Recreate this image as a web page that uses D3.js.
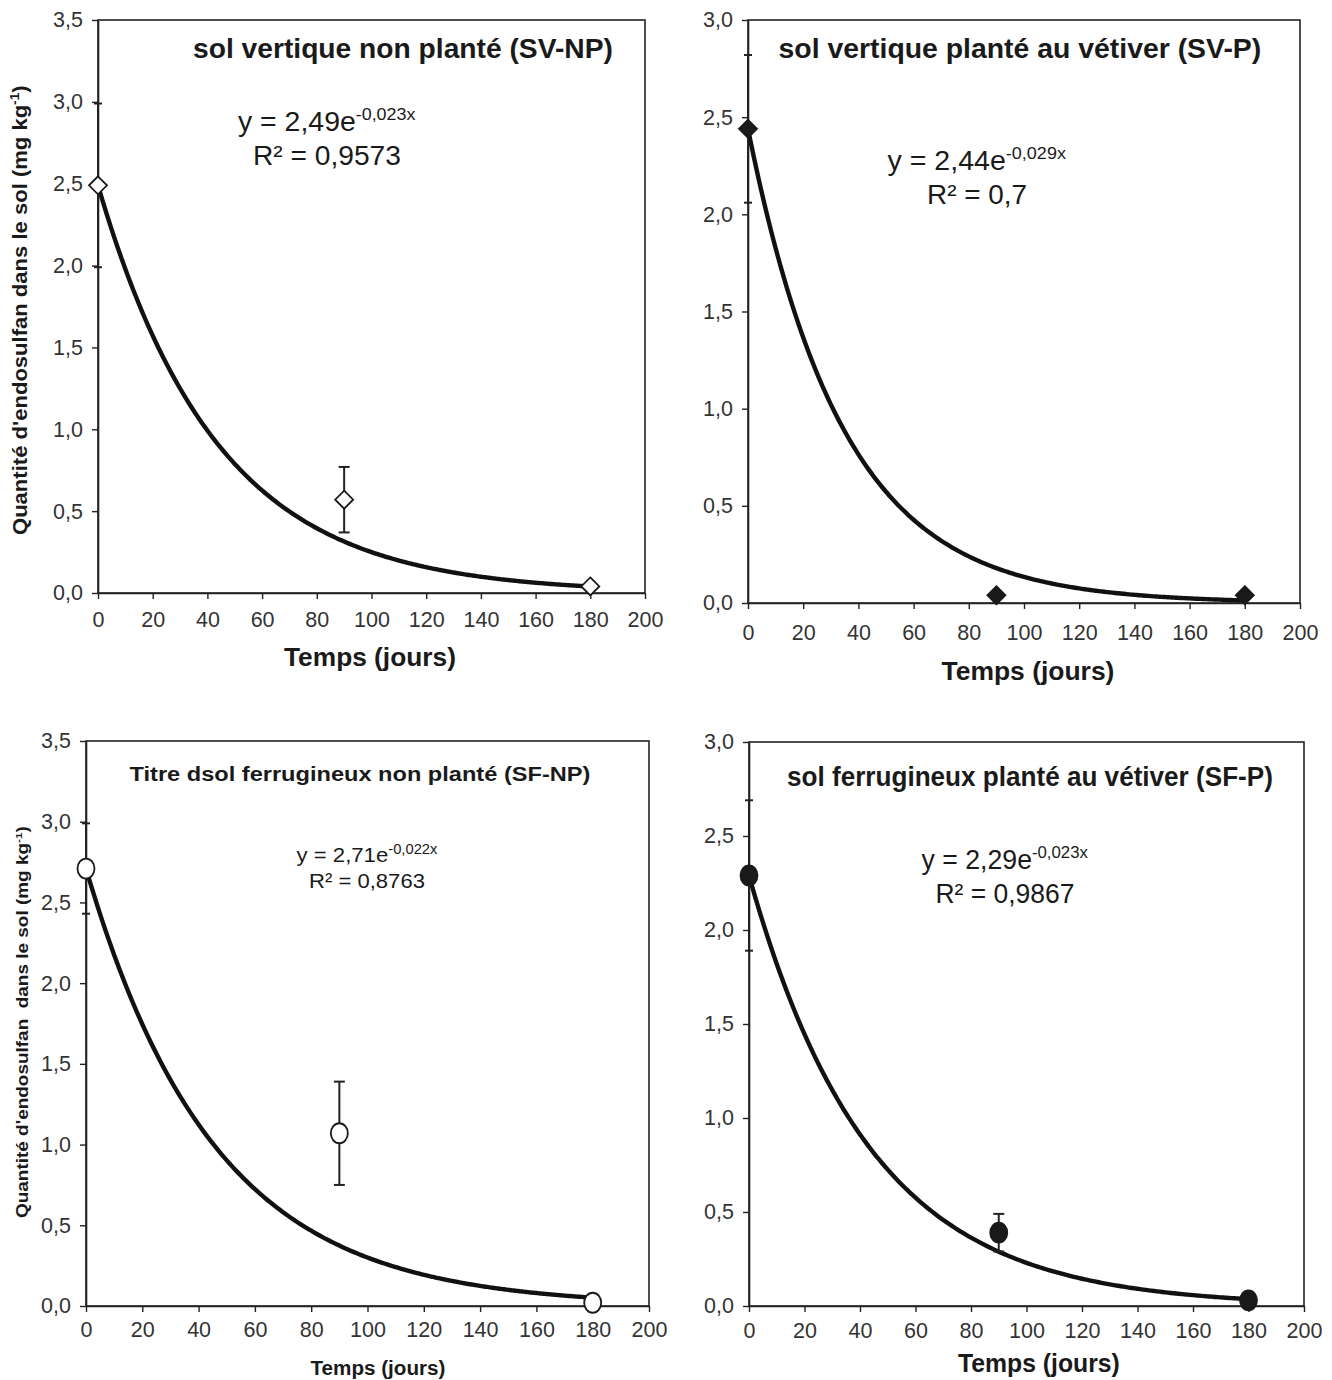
<!DOCTYPE html>
<html><head><meta charset="utf-8">
<script src="https://cdn.jsdelivr.net/npm/d3@7"></script>
<style>
body{margin:0;background:#fff;}
svg{display:block;}
</style></head>
<body>
<script>
// ---- data ----
const xTickValues = [0,20,40,60,80,100,120,140,160,180,200];
const yTicks35 = [0,0.5,1.0,1.5,2.0,2.5,3.0,3.5];
const yTicks30 = [0,0.5,1.0,1.5,2.0,2.5,3.0];
const days = [0, 90, 180];

const svnpMean = [2.49, 0.57, 0.04];
const svnpErr  = [0.50, 0.20, 0];
const svpMean  = [2.44, 0.04, 0.04];
const svpErr   = [0.38, 0, 0];
const sfnpMean = [2.71, 1.07, 0.02];
const sfnpErr  = [0.28, 0.32, 0];
const sfpMean  = [2.29, 0.39, 0.03];
const sfpErr   = [0.40, 0.10, 0];

// trendline coefficients (y = a·e^(−b·x)) as printed on the chart
const fitA = [2.49, 2.44, 2.71, 2.29];
const fitB = [0.023, 0.029, 0.022, 0.023];
const fitR2 = ["0,9573", "0,7", "0,8763", "0,9867"];
const titles = [
  "sol vertique non planté (SV-NP)",
  "sol vertique planté au vétiver (SV-P)",
  "Titre dsol ferrugineux non planté (SF-NP)",
  "sol ferrugineux planté au vétiver (SF-P)"
];
const xLabel = "Temps (jours)";
const yLabel = "Quantité d'endosulfan dans le sol (mg kg";
const yLabel3 = "Quantité d'endosulfan  dans le sol (mg kg";

const W = 1332, H = 1380;
const svg = d3.select("body").append("svg").attr("width", W).attr("height", H);
const FONT = "'Liberation Sans', Arial, sans-serif";
const fmt = v => d3.format(".1f")(v).replace(".", ",");

// place a text centred on cx, fitted to a target width (horizontal squeeze/stretch)
function fitText(parent, cx, cy, width, size, bold, build, rotate) {
  const g = parent.append("g");
  const t = g.append("text").attr("font-family", FONT).attr("font-size", size)
    .attr("font-weight", bold ? "bold" : "normal").attr("fill", "#1a1a1a")
    .attr("xml:space","preserve").style("white-space","pre");
  build(t);
  const w = t.node().getBBox().width;
  t.attr("x", -w/2);
  const s = width / w;
  g.attr("transform", `translate(${cx},${cy})${rotate ? " rotate(-90)" : ""} scale(${s},1)`);
  return g;
}

const panels = [
  {box:[98,645,20,593], yMax:3.5, yTicks:yTicks35, mean:svnpMean, err:svnpErr, marker:"diamond", fill:"#fff", xlOff:34,
   title:{x:403,y:58,size:28,w:420}, eq:{x:327,y:131,size:27,sup:17,gap:34,w1:178,w2:148}, xl:{x:370,y:666,size:26,w:172},
   yl:{x:27,y:310,size:21,w:450,text:yLabel}},
  {box:[748,1300,20,603], yMax:3.0, yTicks:yTicks30, mean:svpMean, err:svpErr, marker:"diamond", fill:"#1a1a1a", xlOff:37,
   title:{x:1020,y:58,size:28,w:483}, eq:{x:977,y:170,size:27,sup:17,gap:34,w1:179,w2:100}, xl:{x:1028,y:680,size:26,w:173}, yl:null},
  {box:[86,649,741,1306], yMax:3.5, yTicks:yTicks35, mean:sfnpMean, err:sfnpErr, marker:"circle", fill:"#fff", xlOff:31,
   title:{x:360,y:781,size:21,w:461}, eq:{x:367,y:862,size:21,sup:14,gap:26,w1:141,w2:116}, xl:{x:378,y:1375,size:20,w:135},
   yl:{x:28,y:1022,size:16,w:392,text:yLabel3}},
  {box:[749,1304,742,1306], yMax:3.0, yTicks:yTicks30, mean:sfpMean, err:sfpErr, marker:"circle", fill:"#1a1a1a", xlOff:32,
   title:{x:1030,y:786,size:28,w:486}, eq:{x:1005,y:869,size:27,sup:17,gap:34,w1:167,w2:139}, xl:{x:1039,y:1372,size:26,w:162}, yl:null}
];

panels.forEach((p, i) => {
  const [L, R, T, B] = p.box;
  const x = d3.scaleLinear().domain([0,200]).range([L,R]);
  const y = d3.scaleLinear().domain([0,p.yMax]).range([B,T]);
  const g = svg.append("g");

  // frame
  g.append("rect").attr("x",L).attr("y",T).attr("width",R-L).attr("height",B-T)
    .attr("fill","none").attr("stroke","#222").attr("stroke-width",1.6);

  // axes
  const xa = g.append("g").attr("transform",`translate(0,${B})`)
    .call(d3.axisBottom(x).tickValues(xTickValues).tickSize(6).tickSizeOuter(0).tickFormat(d3.format("d")));
  const ya = g.append("g").attr("transform",`translate(${L},0)`)
    .call(d3.axisLeft(y).tickValues(p.yTicks).tickSize(6).tickSizeOuter(0).tickFormat(fmt));
  [xa, ya].forEach(a => {
    a.select(".domain").attr("stroke","#222").attr("stroke-width",1.6);
    a.selectAll(".tick line").attr("stroke","#222").attr("stroke-width",1.4);
    a.selectAll("text").attr("font-family",FONT).attr("font-size",21.5).attr("fill","#333");
  });
  xa.selectAll("text").attr("y", p.xlOff).attr("dy", 0);
  ya.selectAll("text").attr("x", -15);

  // trend curve
  const a = fitA[i], b = fitB[i];
  const curve = d3.range(0, 180.5, 1).map(t => [t, a*Math.exp(-b*t)]);
  g.append("path").datum(curve)
    .attr("d", d3.line().x(d => x(d[0])).y(d => y(d[1])).curve(d3.curveBasis))
    .attr("fill","none").attr("stroke","#111").attr("stroke-width",4.4);

  // error bars
  days.forEach((d, k) => {
    const e = p.err[k];
    if (!e) return;
    const cx = x(d), y1 = y(p.mean[k]+e), y2 = y(p.mean[k]-e);
    const hw = d === 0 ? 4 : 5.5;
    g.append("line").attr("x1",cx).attr("x2",cx).attr("y1",y1).attr("y2",y2)
      .attr("stroke","#222").attr("stroke-width",2);
    [y1,y2].forEach(yy => g.append("line").attr("x1",cx-hw).attr("x2",cx+hw).attr("y1",yy).attr("y2",yy)
      .attr("stroke","#222").attr("stroke-width",2));
  });

  // markers
  days.forEach((d, k) => {
    const cx = x(d), cy = y(p.mean[k]);
    if (p.marker === "diamond") {
      const s = 9;
      g.append("path").attr("d",`M${cx},${cy-s}L${cx+s},${cy}L${cx},${cy+s}L${cx-s},${cy}Z`)
        .attr("fill",p.fill).attr("stroke","#1a1a1a").attr("stroke-width",1.8);
    } else {
      g.append("ellipse").attr("cx",cx).attr("cy",cy).attr("rx",8.5).attr("ry",10)
        .attr("fill",p.fill).attr("stroke","#1a1a1a").attr("stroke-width",1.8);
    }
  });

  // title
  fitText(g, p.title.x, p.title.y, p.title.w, p.title.size, true, t => t.text(titles[i]));

  // equation
  fitText(g, p.eq.x, p.eq.y, p.eq.w1, p.eq.size, false, t => {
    t.append("tspan").text(`y = ${String(a).replace(".",",")}e`);
    t.append("tspan").attr("dy",-p.eq.size*0.4).attr("font-size",p.eq.sup)
      .text(`-${String(b).replace(".",",")}x`);
  });
  fitText(g, p.eq.x, p.eq.y + p.eq.gap, p.eq.w2, p.eq.size, false, t => t.text(`R² = ${fitR2[i]}`));

  // x label
  fitText(g, p.xl.x, p.xl.y, p.xl.w, p.xl.size, true, t => t.text(xLabel));

  // y label
  if (p.yl) {
    fitText(g, p.yl.x, p.yl.y, p.yl.w, p.yl.size, true, t => {
      t.append("tspan").text(p.yl.text);
      t.append("tspan").attr("dy",-p.yl.size*0.38).attr("font-size",p.yl.size*0.62).text("-1");
      t.append("tspan").attr("dy",p.yl.size*0.38).text(")");
    }, true);
  }
});
</script>
</body></html>
